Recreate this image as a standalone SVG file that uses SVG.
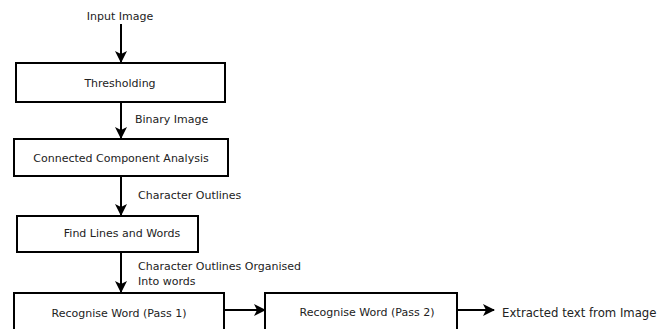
<svg xmlns="http://www.w3.org/2000/svg" width="657" height="329" viewBox="0 0 657 329">
<style>
.box{fill:#fff;stroke:#000;stroke-width:2}
.t{font-family:"DejaVu Sans",Verdana,sans-serif;font-size:11px;fill:#222}
.c{text-anchor:middle}
.e{stroke:#000;stroke-width:2;fill:none;marker-end:url(#ah)}
</style>
<defs>
<marker id="ah" viewBox="0 0 12 12" refX="11" refY="6" markerWidth="12" markerHeight="12" markerUnits="userSpaceOnUse" orient="auto">
<path d="M0,0 L12,6 L0,12 L3,6 Z" fill="#000"/>
</marker>
</defs>
<rect width="657" height="329" fill="#fff"/>
<g id="connectors">
<line class="e" x1="121" y1="24" x2="121" y2="62"/>
<line class="e" x1="121" y1="102" x2="121" y2="138"/>
<line class="e" x1="121" y1="176" x2="121" y2="215"/>
<line class="e" x1="121" y1="252" x2="121" y2="292"/>
<line class="e" x1="224" y1="310" x2="265" y2="310"/>
<line class="e" x1="457" y1="310" x2="494" y2="310"/>
</g>
<g id="input"><text class="t c" x="120" y="20">Input Image</text></g>
<g id="thresholding">
<rect class="box" x="16" y="63" width="209" height="39"/>
<text class="t c" x="120" y="87">Thresholding</text>
</g>
<g id="label-binary"><text class="t" x="135" y="123">Binary Image</text></g>
<g id="cca">
<rect class="box" x="14" y="139" width="214" height="37"/>
<text class="t c" x="121" y="162">Connected Component Analysis</text>
</g>
<g id="label-outlines"><text class="t" x="138" y="199">Character Outlines</text></g>
<g id="findlines">
<rect class="box" x="17" y="216" width="181" height="36"/>
<text class="t c" x="122" y="237">Find Lines and Words</text>
</g>
<g id="label-organised">
<text class="t" x="138" y="270">Character Outlines Organised</text>
<text class="t" x="138" y="285">Into words</text>
</g>
<g id="pass1">
<rect class="box" x="14" y="293" width="210" height="42"/>
<text class="t c" x="119" y="317">Recognise Word (Pass 1)</text>
</g>
<g id="pass2">
<rect class="box" x="265" y="293" width="192" height="42"/>
<text class="t c" x="367" y="316">Recognise Word (Pass 2)</text>
</g>
<g id="output"><text class="t" x="502" y="317" style="font-size:11.7px">Extracted text from Image</text></g>
</svg>
